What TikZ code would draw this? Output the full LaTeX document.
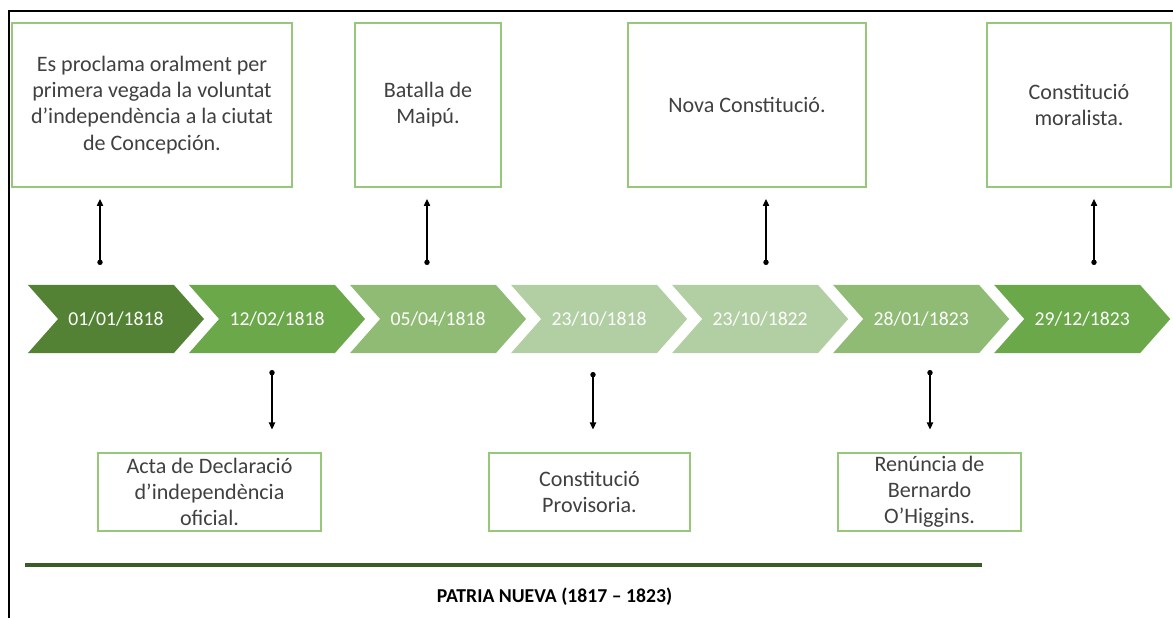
\documentclass[tikz,border=0pt]{standalone}
\usepackage{fontspec}
\setmainfont{Carlito}
\usepackage{tikz}
\usetikzlibrary{positioning,shapes.symbols,arrows.meta}
\definecolor{g_dark}{HTML}{548235}
\definecolor{g_mid}{HTML}{6AA84A}
\definecolor{g_light}{HTML}{8FBB74}
\definecolor{g_pale}{HTML}{B1CFA2}
\definecolor{g_border}{HTML}{97C77A}
\definecolor{g_rule}{HTML}{3B5B27}
\definecolor{txt}{HTML}{404040}

\begin{document}
\begin{tikzpicture}[x=0.025cm,y=-0.025cm,node distance=4.025cm,on grid,
  date/.style={signal,signal from=west,signal to=east,signal pointer angle=97,
    minimum width=4.4cm,minimum height=1.7cm,inner sep=0pt,text=white,
    font=\fontsize{14}{16}\selectfont},
  event/.style={draw=g_border,line width=1pt,align=center,text=txt,inner sep=0pt,
    font=\fontsize{15.7}{18.6}\selectfont},
  link/.style={{Circle[length=3.8pt]}-{Triangle[length=5pt,width=4.5pt]},line width=0.8pt}]
\useasboundingbox (0,0) rectangle (1173,618);
\draw[line width=1.4pt] (1173,11) -- (9,11) -- (9,618);

% timeline
\node[date,fill=g_dark] (d_1) at (116,319) {01/01/1818};
\node[date,fill=g_mid] (d_2) [right of=d_1] {12/02/1818};
\node[date,fill=g_light] (d_3) [right of=d_2] {05/04/1818};
\node[date,fill=g_pale] (d_4) [right of=d_3] {23/10/1818};
\node[date,fill=g_pale] (d_5) [right of=d_4] {23/10/1822};
\node[date,fill=g_light] (d_6) [right of=d_5] {28/01/1823};
\node[date,fill=g_mid] (d_7) [right of=d_6] {29/12/1823};

% events above
\node[event,minimum width=7cm,minimum height=4.1cm] (e_1) at (152,105)
  {Es proclama oralment per\\primera vegada la voluntat\\d’independència a la ciutat\\de Concepción.};
\node[event,minimum width=3.65cm,minimum height=4.1cm] (e_3) at (428,105) {Batalla de\\Maipú.};
\node[event,minimum width=5.95cm,minimum height=4.1cm] (e_5) at (747,105) {Nova Constitució.};
\node[event,minimum width=4.6cm,minimum height=4.1cm] (e_7) at (1079,105) {Constitució\\moralista.};

% events below
\node[event,minimum width=5.575cm,minimum height=1.95cm] (e_2) at (209.5,492)
  {Acta de Declaració\\d’independència\\oficial.};
\node[event,minimum width=5.025cm,minimum height=1.95cm] (e_4) at (589.5,492) {Constitució\\Provisoria.};
\node[event,minimum width=4.575cm,minimum height=1.95cm] (e_6) at (929.5,492) {Renúncia de\\Bernardo\\O’Higgins.};

\coordinate (t_1) at (100,265);
\coordinate (t_3) at (427,265);
\coordinate (t_5) at (766,265);
\coordinate (t_7) at (1094,265);
\coordinate (t_2) at (272,370);
\coordinate (t_4) at (593,372);
\coordinate (t_6) at (930,370);
\path[link,shorten >=0.28cm]
  (t_1) edge (t_1 |- e_1.south)
  (t_3) edge (t_3 |- e_3.south)
  (t_5) edge (t_5 |- e_5.south)
  (t_7) edge (t_7 |- e_7.south);
\path[link,shorten >=0.57cm]
  (t_2) edge (t_2 |- e_2.north)
  (t_4) edge (t_4 |- e_4.north)
  (t_6) edge (t_6 |- e_6.north);

\coordinate (r_a) at (25,565);
\coordinate (r_b) at (982,565);
\draw[g_rule,line width=3.5pt] (r_a) -- (r_b);
\node[font=\bfseries\fontsize{14}{16}\selectfont,text=black] (era) at (554.5,597) {PATRIA NUEVA (1817 – 1823)};
\end{tikzpicture}
\end{document}
